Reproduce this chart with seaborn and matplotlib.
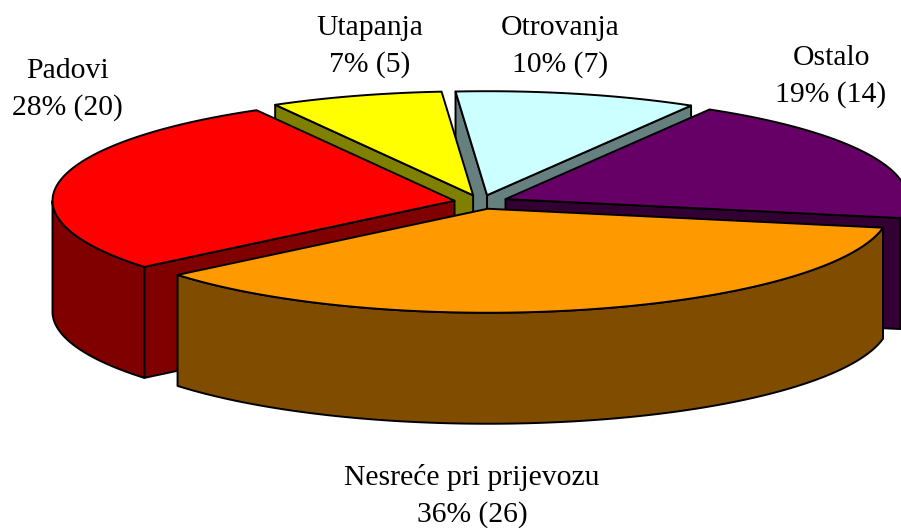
"""Exploded 3D pie of accident causes, drawn with matplotlib polygons (oblique view)."""

import numpy as np
import matplotlib
import matplotlib.pyplot as plt
import seaborn as sns
from matplotlib.patches import Polygon

matplotlib.use("Agg")

# --- data (clockwise from the top) ---
categories = ["Otrovanja", "Ostalo", "Nesreće pri prijevozu", "Padovi", "Utapanja"]
counts = [7, 14, 26, 20, 5]
top_colors = ["#CCFFFF", "#660066", "#FF9900", "#FF0000", "#FFFF00"]
side_colors = ["#668080", "#330033", "#7F4C00", "#800000", "#808000"]

# label anchors (baseline of first line, pixels)
label_pos = [(560, 35), (831, 65), (472, 485), (67, 78), (370, 35)]

# --- layout of the 3D pie ---
START = 94.5        # degrees, first slice starts here and runs clockwise
EXPLODE = 0.067     # explosion distance in radii
CX, CY = 481, 202   # pixel position of pie centre (top face)
RX, RY = 402, 104   # pixel radii of the top ellipse
DEPTH = 111         # pixel height of the side walls

sns.set_theme(style="white")
plt.rcParams["font.family"] = ["Liberation Serif", "DejaVu Serif"]


def project(pts):
    pts = np.atleast_2d(pts)
    return np.column_stack([CX + RX * pts[:, 0], CY - RY * pts[:, 1] - DEPTH * pts[:, 2]])


def ring(angles, off, z):
    a = np.radians(angles)
    return np.column_stack([off[0] + np.cos(a), off[1] + np.sin(a), np.full(a.shape, z)])


fig = plt.figure(figsize=(9.01, 5.28), dpi=100)
ax = fig.add_axes([0, 0, 1, 1])
ax.set_xlim(0, 901)
ax.set_ylim(528, 0)
ax.axis("off")

total = sum(counts)
fracs = np.array(counts) / total
bounds = START - 360 * np.concatenate([[0], np.cumsum(fracs)])

slices = []
for i in range(len(counts)):
    t1, t2 = bounds[i], bounds[i + 1]
    mid = np.radians((t1 + t2) / 2)
    off = EXPLODE * np.array([np.cos(mid), np.sin(mid), 0.0])
    depth_key = off[1] + 0.5 * np.sin(mid)
    slices.append((depth_key, i, t1, t2, off))

edge = dict(edgecolor="black", linewidth=1.4, joinstyle="round")

# painter's order: back slices first
for _, i, t1, t2, off in sorted(slices, reverse=True):
    faces = []
    # radial faces, shown when they face the viewer (normal has -y component)
    for t, sign in ((t1, 1), (t2, -1)):
        a = np.radians(t)
        n = sign * np.array([-np.sin(a), np.cos(a)])
        if n[1] < 0:
            faces.append(np.array([
                off,
                off + [np.cos(a), np.sin(a), 0],
                off + [np.cos(a), np.sin(a), -1],
                off + [0, 0, -1],
            ]))
    # outer wall, front-facing part only
    angs = np.linspace(t2, t1, 600)
    vis = np.sin(np.radians(angs)) < 0
    if vis.any():
        idx = np.where(vis)[0]
        for run in np.split(idx, np.where(np.diff(idx) > 1)[0] + 1):
            va = angs[run]
            faces.append(np.vstack([ring(va, off, 0.0), ring(va[::-1], off, -1.0)]))
    for f in faces:
        ax.add_patch(Polygon(project(f), closed=True, facecolor=side_colors[i], **edge))
    top = np.vstack([off, ring(np.linspace(t1, t2, 400), off, 0.0)])
    ax.add_patch(Polygon(project(top), closed=True, facecolor=top_colors[i], **edge))

# labels
for i, (name, c) in enumerate(zip(categories, counts)):
    x, y = label_pos[i]
    pct = round(100 * c / total)
    ax.text(x, y, name, ha="center", va="baseline", fontsize=21.3, color="black")
    ax.text(x, y + 37, f"{pct}% ({c})", ha="center", va="baseline", fontsize=21.3, color="black")

fig.savefig("out.png", dpi=100)
